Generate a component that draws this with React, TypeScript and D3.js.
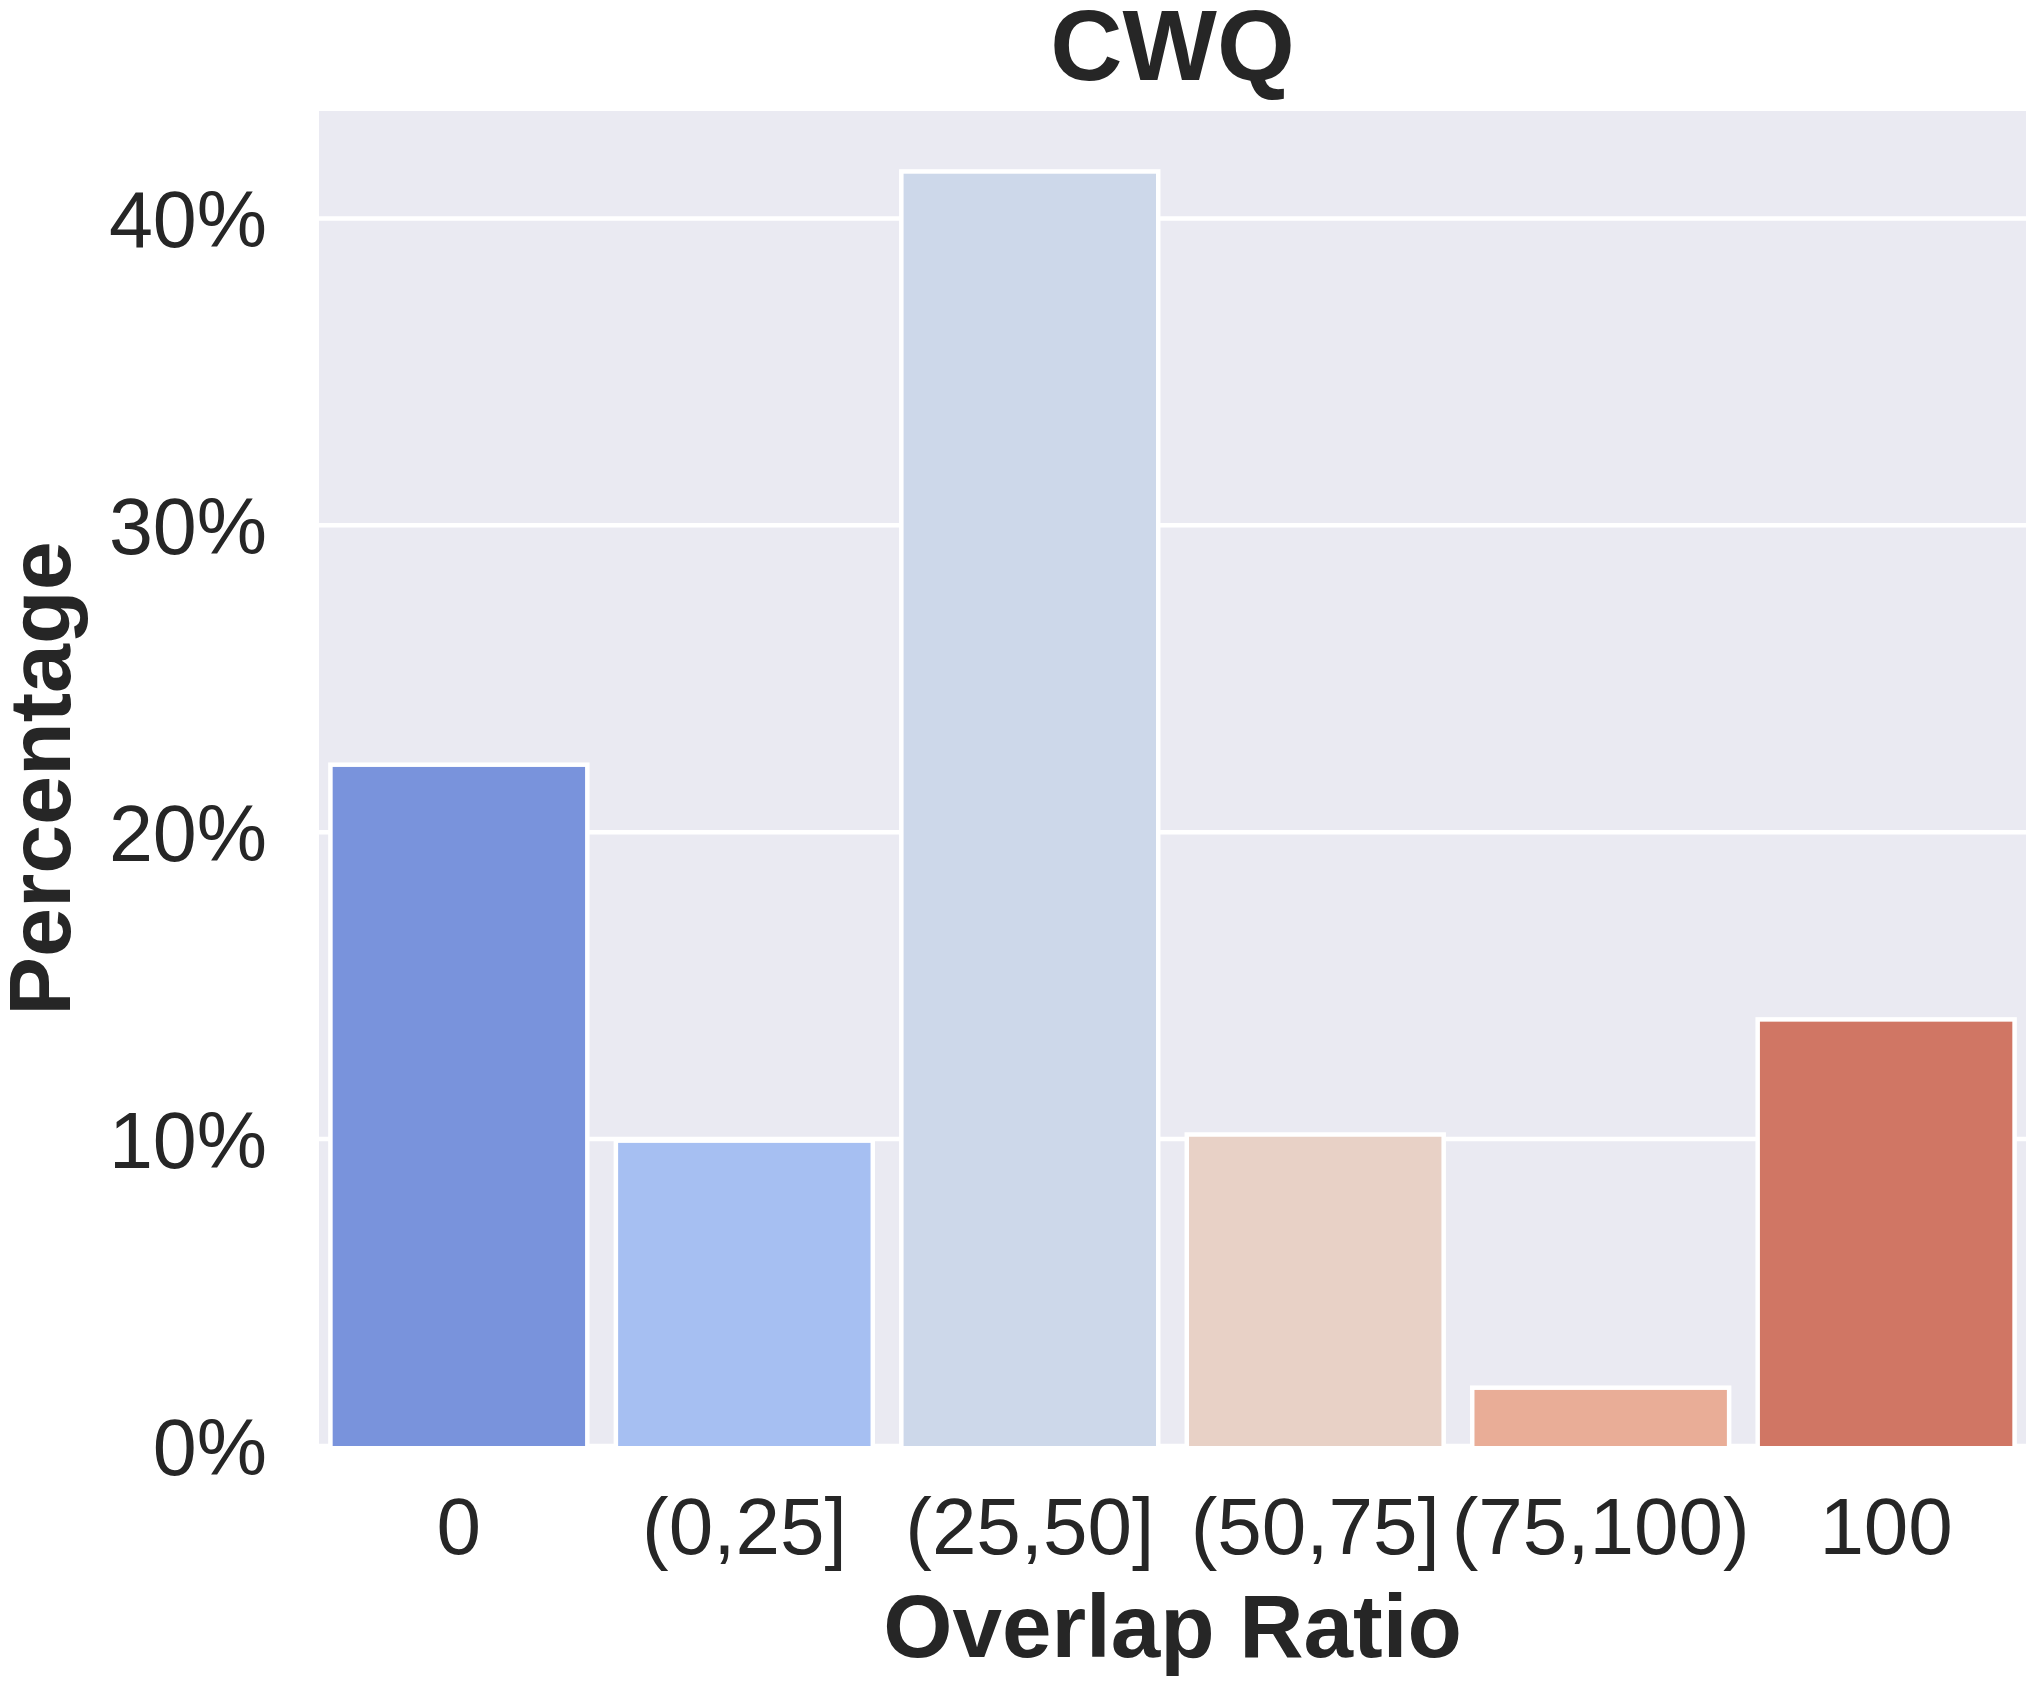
import React from "react";
import * as d3 from "d3";

const categories = ["0", "(0,25]", "(25,50]", "(50,75]", "(75,100)", "100"];
const percentages = [22.2, 9.95, 41.53, 10.15, 1.9, 13.9];
const barColors = ["#7993dc", "#a6bff2", "#cdd8ea", "#e8d1c6", "#e9ad97", "#d07664"];
const yTicks = [0, 10, 20, 30, 40];
const title = "CWQ";
const xLabel = "Overlap Ratio";
const yLabel = "Percentage";

const W = 2027;
const H = 1684;
const plot = { left: 319, right: 2026, top: 111, bottom: 1446 };
const FONT = "'Liberation Sans', Arial, Helvetica, sans-serif";
const TEXT = "#262626";

export default function App() {
  const x = d3.scaleLinear().domain([-0.49, categories.length - 1 + 0.49]).range([plot.left, plot.right]);
  const y = d3.scaleLinear().domain([0, 43.5]).range([plot.bottom, plot.top]);
  const barW = x(0.9) - x(0);

  return (
    <svg width={W} height={H} style={{ position: "absolute", left: 0, top: 0, background: "#fff" }}>
      <defs>
        <clipPath id="plotclip">
          <rect x={plot.left} y={plot.top} width={plot.right - plot.left} height={plot.bottom - plot.top} />
        </clipPath>
      </defs>
      <rect x={plot.left} y={plot.top} width={plot.right - plot.left} height={plot.bottom - plot.top} fill="#eaeaf2" />
      <g clipPath="url(#plotclip)">
        {yTicks.map((t) => (
          <line key={t} x1={plot.left} x2={plot.right} y1={y(t)} y2={y(t)} stroke="#fff" strokeWidth={4.5} />
        ))}
        {percentages.map((v, i) => (
          <rect
            key={i}
            x={x(i) - barW / 2}
            y={y(v)}
            width={barW}
            height={y(0) - y(v) + 10}
            fill={barColors[i]}
            stroke="#fff"
            strokeWidth={4.5}
          />
        ))}
      </g>
      {yTicks.map((t) => (
        <text key={t} x={267} y={y(t) + 29} textAnchor="end" fontFamily={FONT} fontSize={79} fill={TEXT}>
          {d3.format(".0f")(t) + "%"}
        </text>
      ))}
      {categories.map((c, i) => (
        <text key={c} x={x(i)} y={1554} textAnchor="middle" fontFamily={FONT} fontSize={80} fill={TEXT}>
          {c}
        </text>
      ))}
      <text x={(plot.left + plot.right) / 2} y={80} textAnchor="middle" fontFamily={FONT} fontWeight="bold" fontSize={100} fill={TEXT}>
        {title}
      </text>
      <text x={(plot.left + plot.right) / 2} y={1657} textAnchor="middle" fontFamily={FONT} fontWeight="bold" fontSize={89} fill={TEXT}>
        {xLabel}
      </text>
      <text
        transform={`translate(70, ${(plot.top + plot.bottom) / 2}) rotate(-90)`}
        textAnchor="middle"
        fontFamily={FONT}
        fontWeight="bold"
        fontSize={88}
        fill={TEXT}
      >
        {yLabel}
      </text>
    </svg>
  );
}
